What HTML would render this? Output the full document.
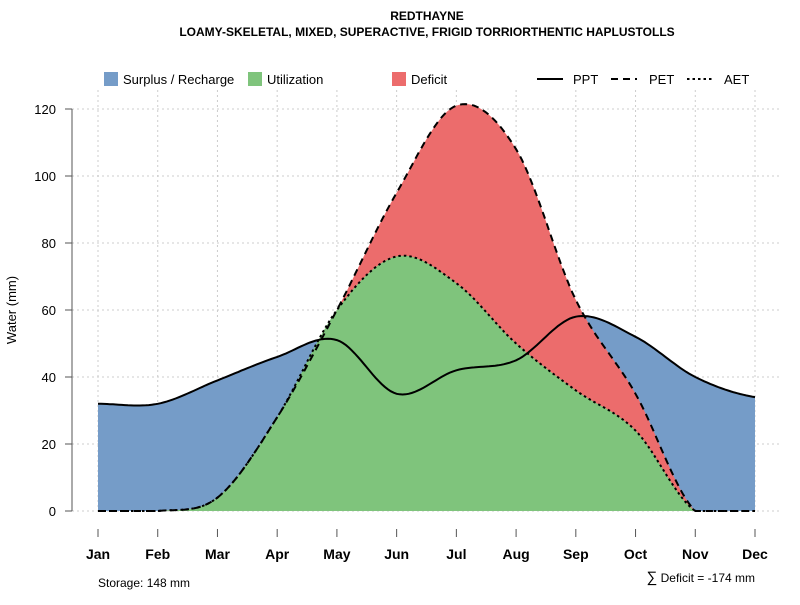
<!DOCTYPE html>
<html><head><meta charset="utf-8"><style>
body{margin:0;background:#fff;}
svg{font-family:"Liberation Sans",sans-serif;}
</style></head><body>
<svg id="chart" width="800" height="600" viewBox="0 0 800 600">
<text x="427" y="20" text-anchor="middle" font-size="12" font-weight="bold">REDTHAYNE</text>
<text x="427" y="36" text-anchor="middle" font-size="12" font-weight="bold">LOAMY-SKELETAL, MIXED, SUPERACTIVE, FRIGID TORRIORTHENTIC HAPLUSTOLLS</text>
<g id="grid"></g>
<g id="areas"></g>
<g id="lines"></g>
<g id="axes"></g>
<g>
<rect x="104" y="72" width="14" height="14" fill="#759cc8"/>
<text x="123" y="84" font-size="13">Surplus / Recharge</text>
<rect x="248" y="72" width="14" height="14" fill="#7fc47c"/>
<text x="267" y="84" font-size="13">Utilization</text>
<rect x="392" y="72" width="14" height="14" fill="#ec6c6c"/>
<text x="411" y="84" font-size="13">Deficit</text>
<line x1="537" y1="79" x2="563" y2="79" stroke="#000" stroke-width="2"/>
<text x="573" y="84" font-size="13">PPT</text>
<line x1="611" y1="79" x2="637" y2="79" stroke="#000" stroke-width="2" stroke-dasharray="7,5"/>
<text x="649" y="84" font-size="13">PET</text>
<line x1="687" y1="79" x2="713" y2="79" stroke="#000" stroke-width="2" stroke-dasharray="2.5,3"/>
<text x="724" y="84" font-size="13">AET</text>
</g>
<text x="16" y="310" font-size="13" text-anchor="middle" transform="rotate(-90 16 310)">Water (mm)</text>
<text x="98" y="587" font-size="12">Storage: 148 mm</text>
<text x="755" y="582" font-size="12" text-anchor="end"><tspan font-size="15">∑</tspan> Deficit = -174 mm</text>
</svg>
<script>
const months=["Jan","Feb","Mar","Apr","May","Jun","Jul","Aug","Sep","Oct","Nov","Dec"];
const ppt=[32,32,39,46,51,35,42,45,58,52,40,34];
const pet=[0,0,4,28,60,95,121,108,63,35,0,0];
const aet=[0,0,4,28,60,76,68,50,36,24,0,0];
const yTicks=[0,20,40,60,80,100,120];
const NS="http://www.w3.org/2000/svg";
const x=i=>98+i*(755-98)/11;
const y=v=>511-v*(402/120);
function mk(t,a,p){const e=document.createElementNS(NS,t);for(const k in a)e.setAttribute(k,a[k]);p.appendChild(e);return e;}
function pts(arr){const out=[];const n=arr.length;for(let i=0;i<n-1;i++){const p0=arr[Math.max(i-1,0)],p1=arr[i],p2=arr[i+1],p3=arr[Math.min(i+2,n-1)];for(let s=0;s<20;s++){const t=s/20,t2=t*t,t3=t2*t;let v=0.5*((2*p1)+(-p0+p2)*t+(2*p0-5*p1+4*p2-p3)*t2+(-p0+3*p1-3*p2+p3)*t3);if(v<0)v=0;out.push([x(i+t),y(v)]);}}out.push([x(n-1),y(arr[n-1])]);return out;}
function line(p){return "M"+p.map(q=>q[0].toFixed(1)+","+q[1].toFixed(1)).join("L");}
function area(p){return line(p)+"L"+x(11)+","+y(0)+"L"+x(0)+","+y(0)+"Z";}
const g=document.getElementById("grid"),ar=document.getElementById("areas"),ln=document.getElementById("lines"),ax=document.getElementById("axes");
yTicks.forEach(v=>{const l=mk("line",{x1:72,x2:782,y1:y(v),y2:y(v),stroke:"#ccc","stroke-dasharray":"2,3"},g);


const t=mk("line",{x1:65,x2:72,y1:y(v),y2:y(v),stroke:"#555"},ax);


const tx=mk("text",{x:56,y:y(v)+5,"text-anchor":"end","font-size":"13"},ax);tx.textContent=v;

});
months.forEach((m,i)=>{const l=mk("line",{x1:x(i),x2:x(i),y1:90,y2:511,stroke:"#ccc","stroke-dasharray":"2,3"},g);


const t=mk("line",{x1:x(i),x2:x(i),y1:529,y2:537,stroke:"#555"},ax);


const tx=mk("text",{x:x(i),y:559,"text-anchor":"middle","font-size":"14","font-weight":"bold"},ax);tx.textContent=m;

});
const yl=mk("line",{x1:72,x2:72,y1:109,y2:511,stroke:"#555"},ax);


const P=pts(ppt),E=pts(pet),A=pts(aet);
const a1=mk("path",{d:area(P),fill:"#759cc8"},ar);


const a2=mk("path",{d:area(E),fill:"#ec6c6c"},ar);


const a3=mk("path",{d:area(A),fill:"#7fc47c"},ar);


const l1=mk("path",{d:line(A),fill:"none",stroke:"#000","stroke-width":2,"stroke-dasharray":"2.5,3"},ln);


const l2=mk("path",{d:line(E),fill:"none",stroke:"#000","stroke-width":2,"stroke-dasharray":"7,5"},ln);


const l3=mk("path",{d:line(P),fill:"none",stroke:"#000","stroke-width":2},ln);


</script>
</body></html>
